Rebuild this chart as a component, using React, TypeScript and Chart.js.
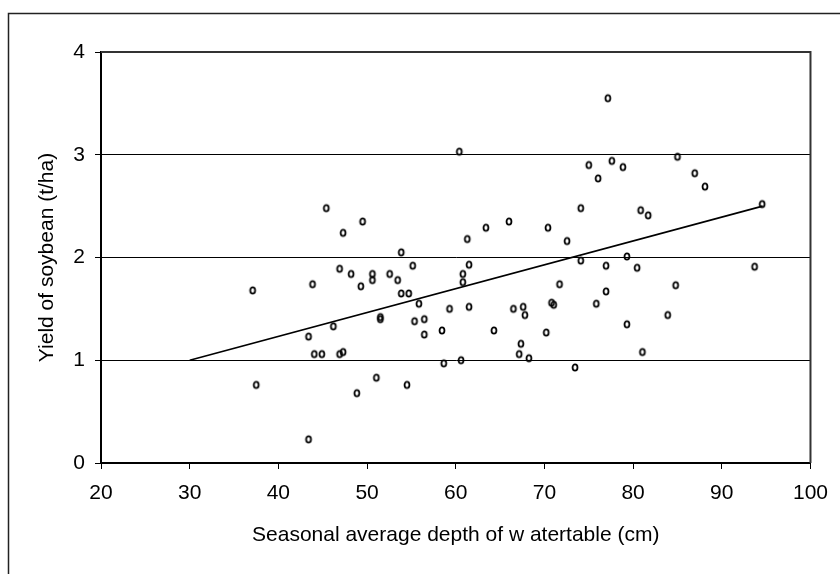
import React, { useEffect, useRef } from 'react';
import { Chart, registerables } from 'chart.js';

Chart.register(...registerables);

// Seasonal average depth of watertable (cm)
const depthCm = [
  37.1, 37.5, 43.4, 43.4, 43.85, 44.05, 44.9, 45.4, 46.2, 46.9,
  46.9, 47.3, 47.3, 48.2, 48.85, 49.3, 49.5, 50.6, 50.6, 51.05,
  51.5, 51.5, 52.55, 53.45, 53.85, 53.85, 54.5, 54.7, 55.15, 55.35,
  55.85, 56.45, 56.45, 58.45, 58.65, 59.3, 60.4, 60.6, 60.8, 60.8,
  61.3, 61.5, 61.5, 63.4, 64.3, 66.0, 66.5, 67.15, 67.35, 67.6,
  67.8, 68.25, 70.2, 70.4, 70.8, 71.05, 71.7, 72.55, 73.45, 74.1,
  74.1, 75.0, 75.85, 76.05, 76.95, 76.95, 77.15, 77.6, 78.85, 79.3,
  79.3, 80.45, 80.85, 81.05, 81.7, 83.9, 84.8, 85.0, 86.95, 88.1,
  93.7, 94.55,
];

// Yield of soybean (t/ha)
const yieldTHa = [
  1.68, 0.76, 1.23, 0.23, 1.74, 1.06, 1.06, 2.48, 1.33, 1.89,
  1.06, 1.08, 2.24, 1.84, 0.68, 1.72, 2.35, 1.84, 1.78, 0.83,
  1.42, 1.40, 1.84, 1.78, 2.05, 1.65, 0.76, 1.65, 1.92, 1.38,
  1.55, 1.40, 1.25, 1.29, 0.97, 1.50, 3.03, 1.00, 1.84, 1.76,
  2.18, 1.93, 1.52, 2.29, 1.29, 2.35, 1.50, 1.06, 1.16, 1.52,
  1.44, 1.02, 1.27, 2.29, 1.56, 1.54, 1.74, 2.16, 0.93, 2.48,
  1.97, 2.90, 1.55, 2.77, 1.67, 1.92, 3.55, 2.94, 2.88, 2.01,
  1.35, 1.90, 2.46, 1.08, 2.41, 1.44, 1.73, 2.98, 2.82, 2.69,
  1.91, 2.52,
];

// Linear trend line end points
const trendX = [30, 94.6];
const trendY = [1.0, 2.5];

const xTicks = [20, 30, 40, 50, 60, 70, 80, 90, 100];
const yTicks = [0, 1, 2, 3, 4];

const xTitle = 'Seasonal average depth of w atertable (cm)';
const yTitle = 'Yield of soybean (t/ha)';

const FONT = "'Liberation Sans', Arial, Helvetica, sans-serif";

function makeMarker(): HTMLCanvasElement {
  const c = document.createElement('canvas');
  c.width = 10;
  c.height = 11;
  const g = c.getContext('2d')!;
  g.strokeStyle = '#000';
  g.lineWidth = 1.8;
  g.beginPath();
  g.ellipse(5, 5.5, 2.45, 3.1, 0, 0, Math.PI * 2);
  g.stroke();
  return c;
}

const framePlugin = {
  id: 'frames',
  afterDraw(chart: any) {
    const { ctx, chartArea } = chart;
    ctx.save();
    ctx.strokeStyle = '#222';
    ctx.lineWidth = 1.5;
    ctx.beginPath();
    ctx.moveTo(8.5, 574);
    ctx.lineTo(8.5, 13.5);
    ctx.lineTo(840, 13.5);
    ctx.stroke();
    ctx.strokeStyle = '#333';
    ctx.lineWidth = 2;
    ctx.beginPath();
    ctx.moveTo(chartArea.left, chartArea.top);
    ctx.lineTo(chartArea.right, chartArea.top);
    ctx.lineTo(chartArea.right, chartArea.bottom);
    ctx.stroke();
    ctx.restore();
  },
};

export default function App() {
  const ref = useRef<HTMLCanvasElement | null>(null);

  useEffect(() => {
    if (!ref.current) return;
    const marker = makeMarker();
    const points = depthCm.map((x, i) => ({ x, y: yieldTHa[i] }));
    const trend = trendX.map((x, i) => ({ x, y: trendY[i] }));

    const chart = new Chart(ref.current, {
      type: 'scatter',
      data: {
        datasets: [
          {
            label: 'trend',
            data: trend,
            showLine: true,
            borderColor: '#000',
            borderWidth: 1.6,
            pointRadius: 0,
            fill: false,
          } as any,
          {
            label: 'yield',
            data: points,
            pointStyle: marker,
            pointRadius: 3,
            pointHoverRadius: 3,
            showLine: false,
          } as any,
        ],
      },
      options: {
        responsive: false,
        animation: false,
        devicePixelRatio: 1,
        events: [],
        layout: { padding: { left: 0, top: 52, right: 24, bottom: 0 } },
        plugins: {
          legend: { display: false },
          tooltip: { enabled: false },
          title: { display: false },
        },
        scales: {
          x: {
            type: 'linear',
            min: 20,
            max: 100,
            afterBuildTicks: (s: any) => {
              s.ticks = xTicks.map((v) => ({ value: v }));
            },
            afterFit: (s: any) => {
              s.height = 111;
            },
            grid: {
              drawOnChartArea: false,
              drawTicks: true,
              tickLength: 6,
              color: '#000',
              lineWidth: 1,
            },
            border: { display: true, color: '#000', width: 2 },
            ticks: {
              color: '#000',
              padding: 12,
              maxRotation: 0,
              font: { family: FONT, size: 21 },
            },
            title: {
              display: true,
              text: xTitle,
              color: '#000',
              font: { family: FONT, size: 21 },
              padding: { top: 0, bottom: 26 },
            },
          },
          y: {
            type: 'linear',
            min: 0,
            max: 4,
            afterBuildTicks: (s: any) => {
              s.ticks = yTicks.map((v) => ({ value: v }));
            },
            afterFit: (s: any) => {
              s.width = 101;
            },
            grid: {
              drawOnChartArea: true,
              drawTicks: true,
              tickLength: 6,
              color: '#000',
              lineWidth: 1,
            },
            border: { display: true, color: '#000', width: 2 },
            ticks: {
              color: '#000',
              padding: 10,
              font: { family: FONT, size: 21 },
            },
            title: {
              display: true,
              text: yTitle,
              color: '#000',
              font: { family: FONT, size: 21 },
              padding: { top: 35, bottom: 0 },
            },
          },
        },
      },
      plugins: [framePlugin],
    });

    return () => {
      chart.destroy();
    };
  }, []);

  return (
    <div style={{ position: 'absolute', left: 0, top: 0, width: 840, height: 574, background: '#fff' }}>
      <canvas ref={ref} width={840} height={574} style={{ display: 'block' }} />
    </div>
  );
}
